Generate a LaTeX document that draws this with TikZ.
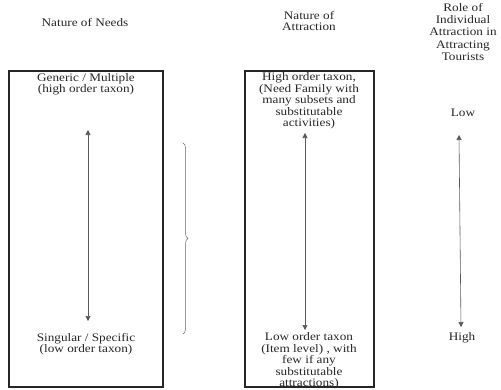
\documentclass[tikz,border=0pt]{standalone}
\usepackage{fontspec}
\setmainfont[FakeStretch=1.15]{Liberation Serif}
\usetikzlibrary{arrows.meta,decorations.pathreplacing}

\begin{document}
\begin{tikzpicture}[x=1pt, y=-1pt, >={Triangle[length=5pt,width=5pt]},
  font=\fontsize{11.5}{11.4}\selectfont,
  txt/.style={align=center, inner sep=0pt, text=black!85},
  col/.style={draw=black!85, line width=1.6pt},
  spanarrow/.style={<->, draw=black!65, line width=0.6pt}]
  \useasboundingbox (0,0) rectangle (501,389);
  % column boxes
  \draw[col] (9,71) rectangle (163,387);
  \draw[col] (245,71) rectangle (374,387);
  % headings
  \node[txt] (hneeds) at (85,23)  {Nature of Needs};
  \node[txt] (hattr)  at (309,21) {Nature of\\Attraction};
  \node[txt, font=\fontsize{11.5}{12.2}\selectfont] (hrole) at (463,32) {Role of\\Individual\\Attraction in\\Attracting\\Tourists};
  % needs column
  \node[txt] (gen)  at (86,84)  {Generic / Multiple\\(high order taxon)};
  \node[txt] (sing) at (86,344) {Singular / Specific\\(low order taxon)};
  \coordinate (ntop) at (88,130);
  \coordinate (nbot) at (88,321);
  \draw[spanarrow] (ntop) -- (nbot);
  % brace
  \coordinate (btop) at (183,143);
  \coordinate (bbot) at (183,334);
  \draw[draw=black!60, line width=0.5pt, decorate, decoration={brace, amplitude=5pt}] (btop) -- (bbot);
  % attraction column
  \node[txt] (high) at (309,101) {High order taxon,\\(Need Family with\\many subsets and\\substitutable\\activities)};
  \node[txt] (low)  at (309,361) {Low order taxon\\(Item level) , with\\few if any\\substitutable\\attractions)};
  \coordinate (atop) at (305,133);
  \coordinate (abot) at (305,330);
  \draw[spanarrow] (atop) -- (abot);
  % role column
  \node[txt] (rlow)  at (463,113) {Low};
  \node[txt] (rhigh) at (462,338) {High};
  \coordinate (rtop) at (459,135);
  \coordinate (rbot) at (461,327);
  \draw[spanarrow] (rtop) -- (rbot);
\end{tikzpicture}
\end{document}
